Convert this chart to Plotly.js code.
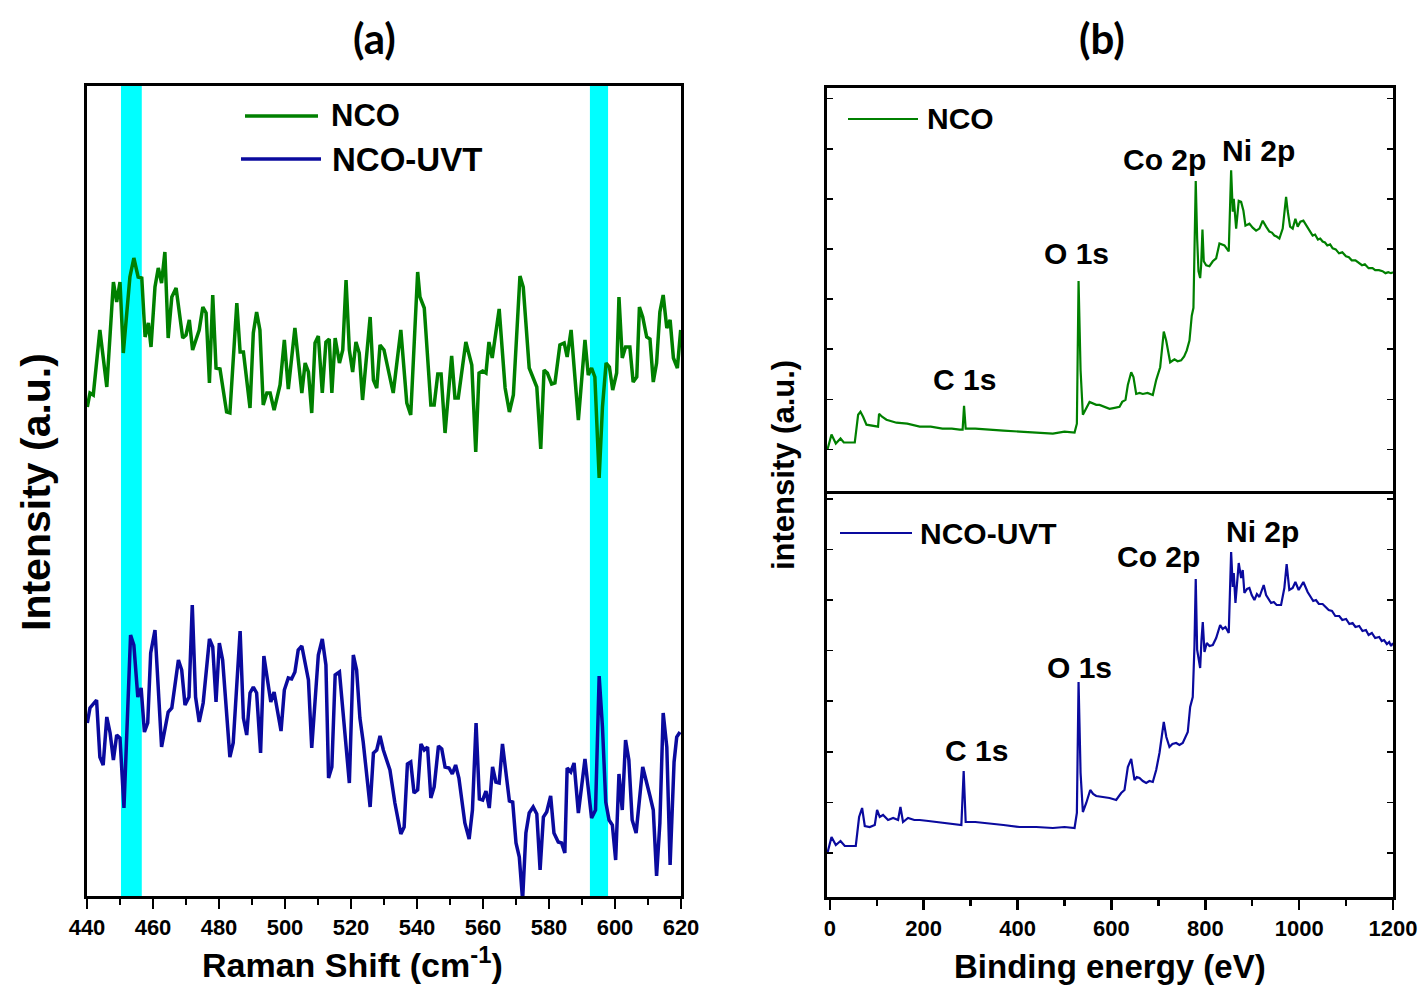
<!DOCTYPE html>
<html><head><meta charset="utf-8">
<script src="https://cdn.plot.ly/plotly-3.0.1.min.js"></script>
<style>body{margin:0;background:#fff}#c{width:1421px;height:987px}</style>
</head><body><div id="c"></div><script>
// ---------- Raman (a) ----------
const ramanNcoX = [440.1,440.9,441.9,443.9,446.0,448.0,449.0,450.0,451.0,453.0,454.2,455.5,456.6,457.6,458.6,459.4,460.6,461.6,462.6,463.6,464.6,465.7,467.0,469.0,470.0,471.0,472.0,474.0,475.1,476.1,477.1,478.1,479.1,480.3,482.3,483.3,485.4,486.4,487.4,489.4,490.4,491.4,492.4,493.4,494.5,495.5,496.7,498.5,499.8,501.0,503.0,505.1,506.1,507.1,508.1,509.1,510.1,511.3,512.4,513.4,514.2,515.2,516.5,517.5,518.5,519.5,520.5,521.5,522.5,523.5,525.8,526.8,527.8,528.8,530.0,531.3,532.8,535.1,536.9,538.1,540.2,540.9,542.2,544.2,545.2,546.3,547.3,548.5,550.5,551.5,552.5,554.8,556.6,557.8,558.8,559.9,560.9,561.8,562.8,564.9,566.7,568.0,569.2,571.2,572.2,574.0,575.2,576.3,577.5,578.5,579.5,580.8,581.8,583.3,584.6,585.5,586.7,588.9,590.9,591.9,592.9,593.9,595.2,596.2,597.3,598.3,599.3,600.5,601.2,602.2,603.2,604.5,605.5,606.6,607.4,608.4,609.6,610.6,611.6,612.6,613.6,614.6,615.7,616.7,617.7,618.9,619.9];
const ramanNcoY = [489,503,501,566,509,614,594,614,543,619,638,619,618,559,573,549,609,628,613,644,558,599,608,558,561,576,546,566,589,583,513,601,528,527,484,483,593,544,544,488,563,584,566,491,503,503,486,511,556,507,568,503,533,524,483,553,560,503,554,557,503,558,533,546,616,546,524,554,543,496,579,516,508,551,546,526,503,566,493,481,624,599,588,491,491,522,522,463,540,498,498,554,531,444,523,525,523,554,538,587,508,484,501,620,609,528,519,509,447,526,523,512,513,551,553,539,566,476,556,521,528,519,418,489,533,529,506,523,599,538,549,549,514,519,589,579,559,557,514,533,584,601,568,576,538,528,566];
const ramanUvtX = [440.1,440.9,442.9,443.9,444.9,446.0,447.0,448.0,449.0,450.0,451.2,453.2,454.2,455.4,456.4,457.4,458.4,459.3,460.6,462.6,464.6,465.7,467.7,468.7,469.7,470.9,471.9,472.9,474.0,475.2,477.1,478.1,479.1,480.1,481.1,483.3,484.3,486.4,487.4,488.4,489.4,490.4,491.4,492.6,493.6,494.6,495.7,496.7,497.7,498.8,499.8,501.0,502.0,503.0,504.0,505.1,507.1,508.1,510.1,511.3,512.4,513.2,514.2,515.2,516.5,519.5,520.7,521.7,522.7,523.7,525.8,526.8,527.8,528.8,529.8,531.8,533.3,535.1,536.1,537.1,538.1,539.1,540.2,541.2,542.2,543.2,544.2,545.2,546.5,547.5,548.5,549.7,550.7,551.7,552.7,554.5,555.8,556.8,557.9,558.9,559.9,560.9,561.9,562.9,563.9,564.9,565.9,568.0,569.0,570.0,571.0,572.0,573.0,574.0,575.2,576.3,577.3,578.3,579.3,580.5,581.5,582.8,583.8,584.8,585.5,586.6,587.6,588.9,590.9,592.9,594.1,595.2,596.2,597.2,598.2,599.2,600.2,601.2,602.2,603.2,604.2,605.2,606.4,608.4,610.6,611.6,612.6,613.6,614.6,615.7,616.7,617.9,618.7,619.7];
const ramanUvtY = [173,188,196,139,131,179,163,136,161,158,88,261,251,199,208,164,173,243,266,149,184,188,236,226,191,199,291,199,174,193,257,249,194,253,236,139,153,265,178,161,203,209,203,143,240,219,194,204,184,165,206,218,217,224,246,250,216,148,241,257,231,118,129,221,224,113,241,226,178,154,89,143,146,160,146,126,93,62,69,132,134,103,106,152,146,149,98,109,150,147,129,128,122,131,118,73,57,86,173,97,96,105,88,129,114,113,152,95,94,53,39,-4,63,83,89,82,26,79,84,100,63,54,53,43,128,124,133,83,137,78,86,220,169,94,76,71,36,122,86,156,136,76,63,129,100,86,20,73,183,149,31,134,159,164];
const ramanBands = [[450.3, 456.6], [592.4, 597.9]];
const ramanTicks = [440,460,480,500,520,540,560,580,600,620];

// ---------- XPS (b) ----------
const xpsNcoE = [-5,3.6,12.8,22.8,29.8,53.2,60.3,65.3,70.9,78.1,102.8,104.9,111.3,120.7,142,165,191.6,215,240,260,276.7,283,286,289.5,310,333.5,370,404.4,440,475.3,500,521.5,526.4,530,534.3,539.2,553.4,567.7,574.7,585,596,607,617.3,623,630,635,642.2,647,652.8,660,666.9,677,688.2,695.4,703.9,711.6,716.7,725.2,734.4,741,748.6,755,760.6,766.3,771.2,774.8,777.6,779.7,782.7,785.5,789.1,791.2,794,796.8,801.9,808.9,816,823.2,830.2,840.9,850,852.2,855.1,858.6,860.7,865.8,871.3,876.4,881.3,885.6,894,901,908.3,915.4,922.4,929.6,936.6,942,947.2,952,957.9,965,969.2,972.2,975.6,980.7,986.3,992,996.9,1002.6,1009,1016,1022,1028.8,1034,1040,1045,1050,1055,1060,1066,1071.4,1078,1085,1092,1099.8,1106,1112,1120,1128.1,1134,1140,1148,1156.4,1162,1170,1177.7,1184,1190,1195.6,1200];
const xpsNcoI = [40,55,46,51,47,47,75,78,73,65,63,76,73,70,67,66,63,63,61,61,60,60,84,61,61,60,59,58,57,56,58,57,66,210,120,75,88,85,85,83,81,82,83,88,90,105,118,113,96,97,96,97,95,110,123,159,150,128,131,129,130,134,140,150,175,183,243,311,253,220,213,226,262,230,226,225,230,233,248,246,240,280,322,280,293,263,291,290,281,266,268,264,261,263,271,265,260,259,256,255,253,263,283,295,281,265,263,273,265,270,271,266,262,256,257,252,253,250,249,246,247,243,242,238,239,235,234,231,231,228,226,227,223,223,221,221,220,218,219,218,219];
const xpsUvtE = [-5,3.6,12.8,22.8,31.9,55.3,62.4,68.8,74.5,85.1,95.8,100.7,106.4,113.5,124.1,135,145.4,150.5,156,166.7,180,191.6,210,227.1,255,280.3,285.2,289.5,310,333.5,370,404.4,440,475.3,500,521.5,526.4,530,534.3,539.2,546.4,554.9,561,567.7,582,596,610.2,620.8,627.9,635,642.2,649.2,654,659.9,667,674.1,681,688.2,695.4,702.4,711.6,717,723.7,730,738,745,752,762.7,767.8,773.3,776.9,779.7,782.7,789.1,791.9,794.7,798.3,803.2,809,816,823.2,831.7,837,843,850,853,855.1,858.6,860.7,864.3,871.3,876.4,879.8,883.4,889,894,899,904.7,910,915.4,920,924.5,929.6,935,940.2,946,952,961.5,968.5,973.4,979.1,986.2,992,999,1004,1009,1018.1,1025.3,1030,1035.9,1042,1050,1057.2,1063,1070,1077,1085.5,1092,1100,1107,1113.9,1120,1128,1135,1142.3,1148,1155,1162,1170.6,1176,1181,1187,1191.9,1196,1200];
const xpsUvtI = [44,60,52,56,51,51,80,89,71,70,72,87,80,82,77,79,77,90,75,79,77,77,76,75,74,72,126,75,75,74,72,70,70,69,70,69,84,215,124,85,94,107,103,101,100,99,97,104,107,130,138,117,120,119,116,114,116,115,127,144,175,160,150,153,154,152,154,165,190,200,250,318,247,229,257,275,245,254,251,252,259,272,268,270,264,304,345,310,324,294,334,319,327,304,308,309,302,297,303,300,306,312,302,298,294,295,292,292,309,333,307,309,315,307,311,315,305,299,296,297,293,293,290,287,286,281,281,277,278,273,274,270,271,266,267,262,264,259,260,256,257,253,255,251,254];
const xpsLabelsTop = [["C 1s",287,111],["O 1s",526,238],["Co 2p",713,333],["Ni 2p",913,342]];
const xpsLabelsBot = [["C 1s",313,147],["O 1s",532,230],["Co 2p",700,341],["Ni 2p",922,366]];

const GREEN = '#008000', BLUE = '#0a0a9e', CYAN = '#00ffff';
const W = 1421, H = 987;
const px = v => v / W, py = v => 1 - v / H;
const FONT = 'Liberation Sans, Arial, sans-serif';

const traces = [
  {x: ramanNcoX, y: ramanNcoY, xaxis: 'x', yaxis: 'y', mode: 'lines', line: {color: GREEN, width: 3.5}, name: 'NCO'},
  {x: ramanUvtX, y: ramanUvtY, xaxis: 'x', yaxis: 'y', mode: 'lines', line: {color: BLUE, width: 3.5}, name: 'NCO-UVT'},
  {x: xpsNcoE, y: xpsNcoI, xaxis: 'x3', yaxis: 'y3', mode: 'lines', line: {color: GREEN, width: 2.2}, name: 'NCO'},
  {x: xpsUvtE, y: xpsUvtI, xaxis: 'x2', yaxis: 'y2', mode: 'lines', line: {color: BLUE, width: 2.2}, name: 'NCO-UVT'}
];

const frame = {showline: true, linecolor: '#000', linewidth: 3, mirror: true, showgrid: false, zeroline: false};
const tickf = {family: FONT, size: 22, color: '#000', weight: 'bold'};

const shapes = ramanBands.map(b => ({type: 'rect', xref: 'x', yref: 'y domain', x0: b[0], x1: b[1], y0: 0, y1: 1, fillcolor: CYAN, line: {width: 0}, layer: 'below'}));
function legLine(x0, x1, y, color, w) {
  shapes.push({type: 'line', xref: 'paper', yref: 'paper', x0: px(x0), x1: px(x1), y0: py(y), y1: py(y), line: {color: color, width: w}});
}
legLine(245, 318, 116, GREEN, 3.5);
legLine(241, 321, 159, BLUE, 3.5);
legLine(848, 918, 119, GREEN, 2.2);
legLine(840, 912, 533, BLUE, 2.2);

const annotations = [];
function txt(text, x, y, size, opts) {
  annotations.push(Object.assign({text: '<b>' + text + '</b>', xref: 'paper', yref: 'paper', x: px(x), y: py(y), showarrow: false,
    font: {family: FONT, size: size, color: '#000'}, xanchor: 'center', yanchor: 'middle'}, opts || {}));
}
txt('(a)', 375, 38, 42, {font: {family: 'Lato, Open Sans, sans-serif', size: 42, color: '#000'}});
txt('(b)', 1102, 38, 42, {font: {family: 'Lato, Open Sans, sans-serif', size: 42, color: '#000'}});
txt('NCO', 329, 116, 31, {xanchor: 'left'});
txt('NCO-UVT', 330, 159, 33, {xanchor: 'left'});
txt('NCO', 925, 119, 30, {xanchor: 'left'});
txt('NCO-UVT', 918, 533, 30, {xanchor: 'left'});
txt('Intensity (a.u.)', 36, 492, 41, {textangle: -90});
txt('intensity (a.u.)', 783, 465, 31, {textangle: -90});
txt('Raman Shift (cm<sup>-1</sup>)', 352, 962, 34);
txt('Binding energy (eV)', 1110, 966, 33);
xpsLabelsTop.forEach(l => annotations.push({text: '<b>' + l[0] + '</b>', xref: 'x3', yref: 'y3', x: l[1], y: l[2], showarrow: false, font: {family: FONT, size: 30, color: '#000'}}));
xpsLabelsBot.forEach(l => annotations.push({text: '<b>' + l[0] + '</b>', xref: 'x2', yref: 'y2', x: l[1], y: l[2], showarrow: false, font: {family: FONT, size: 30, color: '#000'}}));

const layout = {
  width: W, height: H, margin: {l: 0, r: 0, t: 0, b: 0}, paper_bgcolor: '#fff', plot_bgcolor: 'rgba(0,0,0,0)',
  showlegend: false, shapes: shapes, annotations: annotations,
  xaxis: Object.assign({}, frame, {domain: [px(87), px(681)], range: [440, 620], tickvals: ramanTicks, ticks: 'outside', ticklen: 10, tickwidth: 2.5, tickcolor: '#000', tickfont: tickf,
    minor: {dtick: 10, tick0: 440, ticks: 'outside', ticklen: 6, tickwidth: 2.5, tickcolor: '#000'}, anchor: 'y'}),
  yaxis: Object.assign({}, frame, {domain: [py(896), py(86)], range: [0, 810], showticklabels: false, ticks: '', anchor: 'x'}),
  xaxis2: Object.assign({}, frame, {domain: [px(827), px(1393)], range: [-6, 1200], dtick: 200, tick0: 0, ticks: 'outside', ticklen: 10, tickwidth: 2.5, tickcolor: '#000', tickfont: tickf,
    minor: {dtick: 100, tick0: 0, ticks: 'outside', ticklen: 6, tickwidth: 2.5, tickcolor: '#000'}, anchor: 'y2'}),
  yaxis2: Object.assign({}, frame, {mirror: 'ticks', domain: [py(897), py(494)], range: [0, 403], showticklabels: false, ticks: 'inside', ticklen: 6, tickwidth: 1.5, tickcolor: '#000', tick0: 44, dtick: 50.6, anchor: 'x2'}),
  xaxis3: Object.assign({}, frame, {domain: [px(827), px(1393)], range: [-6, 1200], showticklabels: false, ticks: '', anchor: 'y3', matches: 'x2'}),
  yaxis3: Object.assign({}, frame, {mirror: 'ticks', domain: [py(491), py(88)], range: [-2, 405], showticklabels: false, ticks: 'inside', ticklen: 6, tickwidth: 1.5, tickcolor: '#000', tick0: 40, dtick: 50.6, anchor: 'x3'})
};
Plotly.newPlot('c', traces, layout, {displayModeBar: false, staticPlot: true});
</script></body></html>
